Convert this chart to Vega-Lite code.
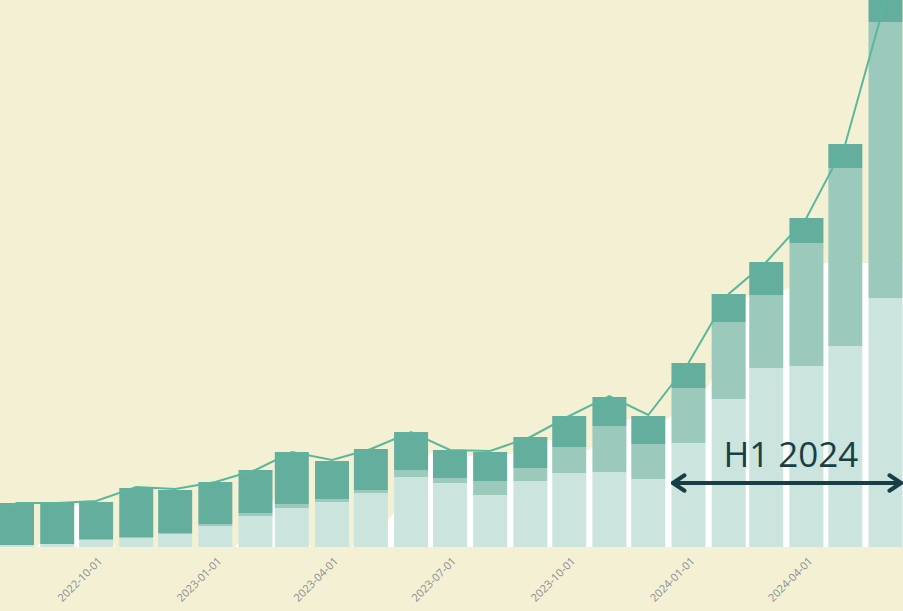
{
  "$schema": "https://vega.github.io/schema/vega-lite/v6.json",
  "width": 903,
  "height": 547,
  "padding": {"left": 0, "right": 0, "top": 0, "bottom": 64},
  "autosize": {"type": "none"},
  "background": "#F4F0D3",
  "config": {"view": {"stroke": null}},
  "datasets": {
    "bars": [
      {"month": "2022-08-01", "segment": "light", "rank": 1, "value": 2},
      {"month": "2022-08-01", "segment": "medium", "rank": 2, "value": 0},
      {"month": "2022-08-01", "segment": "dark", "rank": 3, "value": 42},
      {"month": "2022-09-01", "segment": "light", "rank": 1, "value": 3},
      {"month": "2022-09-01", "segment": "medium", "rank": 2, "value": 0},
      {"month": "2022-09-01", "segment": "dark", "rank": 3, "value": 41},
      {"month": "2022-10-01", "segment": "light", "rank": 1, "value": 7},
      {"month": "2022-10-01", "segment": "medium", "rank": 2, "value": 1},
      {"month": "2022-10-01", "segment": "dark", "rank": 3, "value": 37},
      {"month": "2022-11-01", "segment": "light", "rank": 1, "value": 9},
      {"month": "2022-11-01", "segment": "medium", "rank": 2, "value": 1},
      {"month": "2022-11-01", "segment": "dark", "rank": 3, "value": 49},
      {"month": "2022-12-01", "segment": "light", "rank": 1, "value": 13},
      {"month": "2022-12-01", "segment": "medium", "rank": 2, "value": 1},
      {"month": "2022-12-01", "segment": "dark", "rank": 3, "value": 43},
      {"month": "2023-01-01", "segment": "light", "rank": 1, "value": 21},
      {"month": "2023-01-01", "segment": "medium", "rank": 2, "value": 2},
      {"month": "2023-01-01", "segment": "dark", "rank": 3, "value": 42},
      {"month": "2023-02-01", "segment": "light", "rank": 1, "value": 31},
      {"month": "2023-02-01", "segment": "medium", "rank": 2, "value": 3},
      {"month": "2023-02-01", "segment": "dark", "rank": 3, "value": 43},
      {"month": "2023-03-01", "segment": "light", "rank": 1, "value": 39},
      {"month": "2023-03-01", "segment": "medium", "rank": 2, "value": 4},
      {"month": "2023-03-01", "segment": "dark", "rank": 3, "value": 52},
      {"month": "2023-04-01", "segment": "light", "rank": 1, "value": 45},
      {"month": "2023-04-01", "segment": "medium", "rank": 2, "value": 3},
      {"month": "2023-04-01", "segment": "dark", "rank": 3, "value": 38},
      {"month": "2023-05-01", "segment": "light", "rank": 1, "value": 54},
      {"month": "2023-05-01", "segment": "medium", "rank": 2, "value": 3},
      {"month": "2023-05-01", "segment": "dark", "rank": 3, "value": 41},
      {"month": "2023-06-01", "segment": "light", "rank": 1, "value": 70},
      {"month": "2023-06-01", "segment": "medium", "rank": 2, "value": 7},
      {"month": "2023-06-01", "segment": "dark", "rank": 3, "value": 38},
      {"month": "2023-07-01", "segment": "light", "rank": 1, "value": 64},
      {"month": "2023-07-01", "segment": "medium", "rank": 2, "value": 5},
      {"month": "2023-07-01", "segment": "dark", "rank": 3, "value": 28},
      {"month": "2023-08-01", "segment": "light", "rank": 1, "value": 52},
      {"month": "2023-08-01", "segment": "medium", "rank": 2, "value": 14},
      {"month": "2023-08-01", "segment": "dark", "rank": 3, "value": 29},
      {"month": "2023-09-01", "segment": "light", "rank": 1, "value": 66},
      {"month": "2023-09-01", "segment": "medium", "rank": 2, "value": 13},
      {"month": "2023-09-01", "segment": "dark", "rank": 3, "value": 31},
      {"month": "2023-10-01", "segment": "light", "rank": 1, "value": 74},
      {"month": "2023-10-01", "segment": "medium", "rank": 2, "value": 26},
      {"month": "2023-10-01", "segment": "dark", "rank": 3, "value": 31},
      {"month": "2023-11-01", "segment": "light", "rank": 1, "value": 75},
      {"month": "2023-11-01", "segment": "medium", "rank": 2, "value": 46},
      {"month": "2023-11-01", "segment": "dark", "rank": 3, "value": 29},
      {"month": "2023-12-01", "segment": "light", "rank": 1, "value": 68},
      {"month": "2023-12-01", "segment": "medium", "rank": 2, "value": 35},
      {"month": "2023-12-01", "segment": "dark", "rank": 3, "value": 28},
      {"month": "2024-01-01", "segment": "light", "rank": 1, "value": 104},
      {"month": "2024-01-01", "segment": "medium", "rank": 2, "value": 55},
      {"month": "2024-01-01", "segment": "dark", "rank": 3, "value": 25},
      {"month": "2024-02-01", "segment": "light", "rank": 1, "value": 148},
      {"month": "2024-02-01", "segment": "medium", "rank": 2, "value": 77},
      {"month": "2024-02-01", "segment": "dark", "rank": 3, "value": 28},
      {"month": "2024-03-01", "segment": "light", "rank": 1, "value": 179},
      {"month": "2024-03-01", "segment": "medium", "rank": 2, "value": 73},
      {"month": "2024-03-01", "segment": "dark", "rank": 3, "value": 33},
      {"month": "2024-04-01", "segment": "light", "rank": 1, "value": 181},
      {"month": "2024-04-01", "segment": "medium", "rank": 2, "value": 123},
      {"month": "2024-04-01", "segment": "dark", "rank": 3, "value": 25},
      {"month": "2024-05-01", "segment": "light", "rank": 1, "value": 201},
      {"month": "2024-05-01", "segment": "medium", "rank": 2, "value": 178},
      {"month": "2024-05-01", "segment": "dark", "rank": 3, "value": 24},
      {"month": "2024-06-01", "segment": "light", "rank": 1, "value": 249},
      {"month": "2024-06-01", "segment": "medium", "rank": 2, "value": 276},
      {"month": "2024-06-01", "segment": "dark", "rank": 3, "value": 22}
    ],
    "line": [
      {"month": "2022-07-01", "total": 26},
      {"month": "2022-08-01", "total": 44},
      {"month": "2022-09-01", "total": 44},
      {"month": "2022-10-01", "total": 46},
      {"month": "2022-11-01", "total": 60},
      {"month": "2022-12-01", "total": 58},
      {"month": "2023-01-01", "total": 65},
      {"month": "2023-02-01", "total": 77},
      {"month": "2023-03-01", "total": 95},
      {"month": "2023-04-01", "total": 87},
      {"month": "2023-05-01", "total": 98},
      {"month": "2023-06-01", "total": 115},
      {"month": "2023-07-01", "total": 97},
      {"month": "2023-08-01", "total": 96},
      {"month": "2023-09-01", "total": 110},
      {"month": "2023-10-01", "total": 131},
      {"month": "2023-11-01", "total": 151},
      {"month": "2023-12-01", "total": 132},
      {"month": "2024-01-01", "total": 184},
      {"month": "2024-02-01", "total": 253},
      {"month": "2024-03-01", "total": 285},
      {"month": "2024-04-01", "total": 329},
      {"month": "2024-05-01", "total": 403},
      {"month": "2024-06-01", "total": 547}
    ],
    "white": [
      {"date": "2022-07-16", "h": 0},
      {"date": "2022-08-16", "h": 0},
      {"date": "2022-09-16", "h": 44},
      {"date": "2022-10-16", "h": 0},
      {"date": "2022-11-16", "h": 0},
      {"date": "2022-12-16", "h": 0},
      {"date": "2023-01-16", "h": 0},
      {"date": "2023-02-15", "h": 47},
      {"date": "2023-03-16", "h": 0},
      {"date": "2023-04-16", "h": 0},
      {"date": "2023-05-16", "h": 29},
      {"date": "2023-06-16", "h": 94},
      {"date": "2023-07-16", "h": 91},
      {"date": "2023-08-16", "h": 93},
      {"date": "2023-09-16", "h": 107},
      {"date": "2023-10-16", "h": 97},
      {"date": "2023-11-16", "h": 128},
      {"date": "2023-12-16", "h": 128},
      {"date": "2024-01-16", "h": 160},
      {"date": "2024-02-15", "h": 250},
      {"date": "2024-03-16", "h": 257},
      {"date": "2024-04-16", "h": 284},
      {"date": "2024-05-16", "h": 284},
      {"date": "2024-06-16", "h": 284}
    ],
    "note": [
      {"start": "2023-12-20", "end": "2024-06-13", "mid": "2024-03-20", "arrowY": 64, "textY": 80, "label": "H1 2024"}
    ]
  },
  "layer": [
    {
      "data": {"name": "white"},
      "mark": {"type": "area", "color": "#FFFFFF", "clip": true},
      "encoding": {
        "x": {
          "field": "date", "type": "temporal", "title": null,
          "scale": {"type": "utc", "padding": 0, "nice": false, "domain": [{"year": 2022, "month": 7, "date": 18, "hours": 21, "utc": true}, {"year": 2024, "month": 6, "date": 14, "hours": 12, "utc": true}]},
          "axis": {
            "values": [
              {"year": 2022, "month": 10, "date": 1, "utc": true},
              {"year": 2023, "month": 1, "date": 1, "utc": true},
              {"year": 2023, "month": 4, "date": 1, "utc": true},
              {"year": 2023, "month": 7, "date": 1, "utc": true},
              {"year": 2023, "month": 10, "date": 1, "utc": true},
              {"year": 2024, "month": 1, "date": 1, "utc": true},
              {"year": 2024, "month": 4, "date": 1, "utc": true}
            ],
            "format": "%Y-%m-%d",
            "labelAngle": -45,
            "ticks": false,
            "domain": false,
            "grid": false,
            "labelColor": "#8A8C94",
            "labelFont": "Open Sans",
            "labelFontSize": 11,
            "labelPadding": 8
          }
        },
        "y": {"field": "h", "type": "quantitative", "scale": {"domain": [0, 547], "nice": false, "zero": true}, "axis": null}
      }
    },
    {
      "data": {"name": "bars"},
      "mark": {"type": "bar", "width": 34},
      "encoding": {
        "x": {"field": "month", "type": "temporal", "title": null},
        "y": {"field": "value", "type": "quantitative", "stack": "zero", "title": null},
        "color": {"field": "segment", "type": "nominal", "scale": {"domain": ["light", "medium", "dark"], "range": ["#CCE4DE", "#9BCABD", "#64AE9E"]}, "legend": null},
        "order": {"field": "rank", "type": "quantitative"}
      }
    },
    {
      "data": {"name": "line"},
      "mark": {"type": "line", "color": "#5BB79B", "strokeWidth": 2, "clip": true},
      "encoding": {
        "x": {"field": "month", "type": "temporal", "title": null},
        "y": {"field": "total", "type": "quantitative", "title": null}
      }
    },
    {
      "data": {"name": "note"},
      "mark": {"type": "rule", "color": "#173F45", "strokeWidth": 4, "strokeCap": "round"},
      "encoding": {
        "x": {"field": "start", "type": "temporal", "title": null},
        "x2": {"field": "end"},
        "y": {"field": "arrowY", "type": "quantitative", "title": null}
      }
    },
    {
      "data": {"name": "note"},
      "mark": {"type": "point", "shape": "M 1.5 -1 L 0 0 L 1.5 1", "size": 240, "filled": false, "stroke": "#173F45", "strokeWidth": 4, "strokeCap": "round", "strokeJoin": "round", "opacity": 1},
      "encoding": {
        "x": {"field": "start", "type": "temporal", "title": null},
        "y": {"field": "arrowY", "type": "quantitative", "title": null}
      }
    },
    {
      "data": {"name": "note"},
      "mark": {"type": "point", "shape": "M -1.5 -1 L 0 0 L -1.5 1", "size": 240, "filled": false, "stroke": "#173F45", "strokeWidth": 4, "strokeCap": "round", "strokeJoin": "round", "opacity": 1},
      "encoding": {
        "x": {"field": "end", "type": "temporal", "title": null},
        "y": {"field": "arrowY", "type": "quantitative", "title": null}
      }
    },
    {
      "data": {"name": "note"},
      "mark": {"type": "text", "font": "Open Sans", "fontSize": 35, "color": "#173F45", "align": "center", "baseline": "alphabetic"},
      "encoding": {
        "x": {"field": "mid", "type": "temporal", "title": null},
        "y": {"field": "textY", "type": "quantitative", "title": null},
        "text": {"field": "label"}
      }
    }
  ]
}
